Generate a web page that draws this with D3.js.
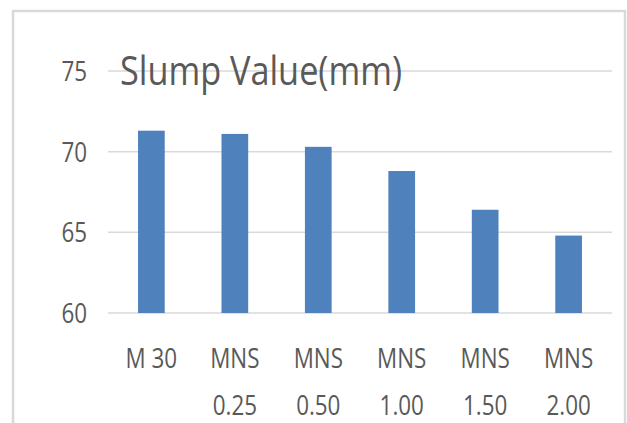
<!DOCTYPE html>
<html>
<head>
<meta charset="utf-8">
<script src="https://cdn.jsdelivr.net/npm/d3@7/dist/d3.min.js"></script>
<style>
  html, body { margin: 0; padding: 0; background: #ffffff; }
  svg { display: block; }
  text { font-family: "Open Sans", "Noto Sans", sans-serif; fill: #595959; }
</style>
</head>
<body>
<svg id="chart" width="627" height="423"></svg>
<script>
// Slump test results per mix
const categories = ["M 30", "MNS 0.25", "MNS 0.50", "MNS 1.00", "MNS 1.50", "MNS 2.00"];
const slumpValues = [71.3, 71.1, 70.3, 68.8, 66.4, 64.8];
const yTicks = [60, 65, 70, 75];
const titleText = "Slump Value(mm)";

const svg = d3.select("#chart");
const W = 627, H = 423;
const plot = { left: 108, right: 612, top: 71, bottom: 313 };
const squeeze = 0.8; // narrow letterforms

// outer chart frame
svg.append("path")
  .attr("d", `M13,${H + 2} V11 H625 V${H + 2}`)
  .attr("fill", "none")
  .attr("stroke", "#d9d9d9")
  .attr("stroke-width", 2.5);

const x = d3.scaleBand()
  .domain(categories)
  .range([plot.left, plot.right])
  .paddingInner(0.68)
  .paddingOuter(0.36);

const y = d3.scaleLinear()
  .domain([60, 75])
  .range([plot.bottom, plot.top]);

// horizontal gridlines
svg.append("g")
  .selectAll("line")
  .data(yTicks)
  .join("line")
  .attr("x1", plot.left)
  .attr("x2", plot.right)
  .attr("y1", d => y(d))
  .attr("y2", d => y(d))
  .attr("stroke", "#d9d9d9")
  .attr("stroke-width", 1.5);

// y tick labels
svg.append("g")
  .selectAll("text")
  .data(yTicks)
  .join("text")
  .attr("transform", d => `translate(87,${y(d)}) scale(${squeeze},1)`)
  .attr("text-anchor", "end")
  .attr("dy", "0.36em")
  .attr("font-size", 28)
  .text(d => d);

// bars
svg.append("g")
  .selectAll("rect")
  .data(categories.map((c, i) => ({ c, v: slumpValues[i] })))
  .join("rect")
  .attr("x", d => x(d.c))
  .attr("width", x.bandwidth())
  .attr("y", d => y(d.v))
  .attr("height", d => y(60) - y(d.v))
  .attr("fill", "#4f81bd");

// category labels, split over two lines
const xl = svg.append("g")
  .selectAll("g")
  .data(categories)
  .join("g")
  .attr("transform", d => `translate(${x(d) + x.bandwidth() / 2},0)`);

xl.each(function (d) {
  const parts = d.startsWith("MNS") ? ["MNS", d.slice(4)] : [d];
  d3.select(this).selectAll("text")
    .data(parts)
    .join("text")
    .attr("transform", (p, i) => `translate(0,${368 + i * 47}) scale(${squeeze},1)`)
    .attr("text-anchor", "middle")
    .attr("font-size", 28)
    .text(p => p);
});

// chart title
svg.append("text")
  .attr("x", 120)
  .attr("y", 85)
  .attr("font-size", 41)
  .attr("textLength", 282)
  .attr("lengthAdjust", "spacingAndGlyphs")
  .text(titleText);
</script>
</body>
</html>
